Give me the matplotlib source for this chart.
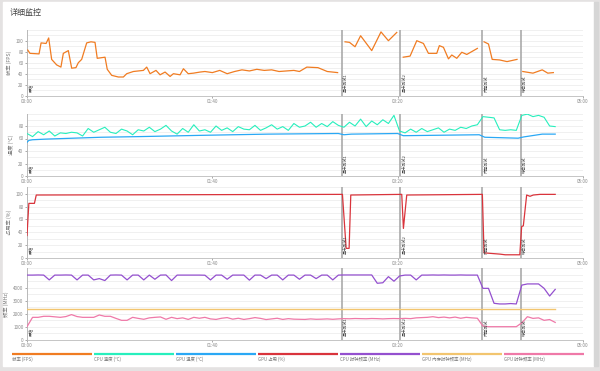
import matplotlib
matplotlib.use("Agg")
import matplotlib.pyplot as plt
import numpy as np

plt.rcParams['font.family'] = ['Noto Sans CJK SC', 'DejaVu Sans']

# ---- data (time in seconds) ----
fps_t = [0.4, 1.6, 6.5, 7.6, 10.3, 11.7, 13.3, 16, 18.3, 19.6, 22.3, 24.1, 26.4, 27.7, 29.5,
         32.2, 34.5, 36.7, 37.9, 42.1, 43.3, 45.7, 49.3, 52, 53.8, 57.4, 62.8, 64.6, 66.4,
         69.6, 71.8, 74.5, 77.2, 79, 82.6, 84.4, 87, 89.8, 93.4, 96, 100, 104, 108, 112, 116,
         120, 124, 128, 132, 136, 140, 144, 147, 151, 157, 162, 167.6, 169,
         171.6, 174, 177, 180, 186, 191, 195, 199.5, 201,
         203, 206.7, 210.3, 213.9, 216.6, 221.1, 222.5, 224.7, 227.4, 229.2, 231.9, 234.6,
         237.3, 243, 245,
         246.6, 249, 251, 255, 259, 264.4, 266,
         267.5, 273, 278, 281, 284]
fps = [83, 77, 76, 96, 95, 105, 66, 56, 52, 77, 82, 50, 51, 60, 66,
       96, 98, 97, 68, 70, 48, 37, 34, 34, 40, 44, 46, 52, 40,
       46, 38, 43, 35, 40, 38, 49, 40, 41, 43, 44, 42, 46, 40, 44, 47,
       45, 48, 46, 47, 44, 45, 46, 44, 52, 51, 44, 42, np.nan,
       98, 97, 89, 109, 82, 116, 100, 115, np.nan,
       70, 72, 100, 95, 77, 77, 91, 88, 67, 74, 68, 79,
       75, 86, np.nan,
       98, 94, 66, 65, 62, 66, np.nan,
       44, 41, 47, 41, 42]

t3 = list(range(0, 286, 3))
cpu_temp = [68, 63, 71, 66, 72, 64, 69, 68, 70, 69, 64, 76, 70, 74, 78, 70, 68, 75, 72, 66,
            74, 72, 78, 71, 75, 81, 72, 67, 76, 70, 82, 72,
            74, 70, 80, 73, 77, 71, 79, 75, 74, 81, 73, 77, 82, 75, 79, 73, 84, 78,
            80, 86, 78, 84, 79, 87, 81,
            78, 86, 80, 91, 79, 88, 82, 90, 84, 97,
            72, 69, 75, 70, 76, 71, 74, 77, 70, 75, 73, 78, 76, 80, 82,
            95, 94, 93, 74, 73, 74, 73, 97, 99, 95, 97, 94, 80, 79]
gpu_temp_t = [0, 1, 3, 10, 20, 40, 60, 93, 130, 168, 171, 175, 200, 203, 244, 247, 265,
              268, 278, 285]
gpu_temp = [54, 57, 58, 59, 60, 62, 63, 65, 67, 68, 66, 67, 68, 64.5, 66, 62, 60.5,
            62.5, 67, 67]

gpu_util_t = [0, 1, 4, 5, 170.2, 172.2, 173.8, 174.7, 202.2, 203.1, 204.9, 245.7, 246.6,
              255.3, 258, 265.9, 266.9, 267.8, 269.6, 271.4, 273.2, 276.8, 285]
gpu_util = [35, 85, 85, 98, 99, 15, 15, 98, 99, 46, 98, 99, 8,
            6, 5, 5, 49, 50, 98, 96, 98, 99, 99]

cpu_clock = [4970, 4970, 4980, 4970, 4600, 4970, 4970, 4980, 4970, 4600, 4970, 4970, 4600,
             4700, 4550, 4970, 4980, 4970, 4600, 4970, 4970, 4600, 4970, 4650, 4970, 4980,
             4550, 4970, 4970, 4970, 4970, 4970, 4960, 4600, 4970, 4970, 4650, 4970, 4970,
             4970, 4580, 4970, 4970, 4700, 4970, 4970, 4600, 4970, 4970, 4650, 4970, 4970,
             4700, 4970, 4970, 4600, 4970, 4980, 4980, 4980, 4980, 4980, 4980, 4340, 4380,
             4850, 4500, 4900, 4970, 4970, 4600, 4970, 4970, 4980, 4970, 4980, 4970, 4970,
             4980, 4970, 4970, 4970, 3950, 3950, 2800, 2750, 2750, 2780, 2750, 4200, 4290,
             4290, 4290, 3950, 3360, 3870]
gpu_mem_t = [0, 285]
gpu_mem = [2400, 2400]
gpu_clock = [1000, 1720, 1720, 1800, 1800, 1760, 1720, 1780, 1930, 1780, 1720, 1720, 1720,
             1900, 1800, 1800, 1640, 1490, 1490, 1720, 1640, 1570, 1680, 1720, 1750, 1570,
             1720, 1620, 1680, 1560, 1720, 1650, 1720, 1600, 1560, 1650, 1700, 1580, 1650,
             1560, 1620, 1700, 1640, 1550, 1600, 1650, 1560, 1620, 1580, 1570, 1560, 1600,
             1570, 1580, 1600, 1570, 1600, 1620, 1610, 1630, 1620, 1610, 1630, 1620, 1600,
             1620, 1630, 1620, 1640, 1620, 1680, 1700, 1720, 1770, 1700, 1740, 1680, 1740,
             1650, 1720, 1680, 1650, 1050, 1000, 1000, 1000, 1000, 1000, 1000, 1300, 1770,
             1640, 1680, 1490, 1550, 1330]

marker_t = [0, 170, 201.5, 245.5, 266.5]
marker_labels = ['开始', '显卡测试1', '显卡测试2', '内存测试', '综合测试']

legend_names = ['帧率 (FPS)', 'CPU 温度 (°C)', 'GPU 温度 (°C)', 'GPU 占用 (%)',
                'CPU 时钟频率 (MHz)', 'GPU 内存时钟频率 (MHz)', 'GPU 时钟频率 (MHz)']
colors = ['#f07c22', '#27efbd', '#2aa8f5', '#d9343c', '#9450cf', '#f2c56f', '#ef79a8']

# ---- figure ----
W, H = 600, 371
fig = plt.figure(figsize=(6, 3.71), dpi=100)
fig.patch.set_facecolor('white')

bg = fig.add_axes([0, 0, 1, 1], zorder=-5)
bg.set_xlim(0, W)
bg.set_ylim(H, 0)
bg.axis('off')
bg.add_patch(plt.Rectangle((0, 0), W, H, color='#e4e2e2'))
bg.add_patch(plt.Rectangle((3, 2), 590, 364, color='white'))
bg.add_patch(plt.Rectangle((594, 2), 4, 364, color='#d6d6d6'))
bg.text(10, 12, '详细监控', fontsize=5.8, color='#444444', va='center')


def px_axes(top, bottom):
    return fig.add_axes([27 / W, 1 - bottom / H, (583 - 27) / W, (bottom - top) / H])


panels = [
    (29.7, 95.7, (0, 120), np.arange(0, 101, 20), 10, '帧率 (FPS)'),
    (113.5, 176, (0, 100), np.arange(0, 81, 20), 10, '温度 (°C)'),
    (187.3, 258, (0, 110), np.arange(0, 101, 20), 10, '占用率 (%)'),
    (268.2, 339.7, (0, 5500), np.arange(0, 4001, 1000), 500, '频率 (MHz)'),
]

axes = []
for top, bottom, ylim, yt, gstep, ylab in panels:
    ax = px_axes(top, bottom)
    ax.set_xlim(0, 300)
    ax.set_ylim(*ylim)
    for g in np.arange(gstep, ylim[1] + 0.1, gstep):
        ax.axhline(g, color='#eeeeee', lw=0.6, zorder=0)
    ax.set_yticks(yt)
    ax.set_yticklabels([str(int(v)) for v in yt])
    ax.set_xticks([0, 100, 200, 300])
    ax.set_xticklabels(['00:00', '01:40', '03:20', '05:00'])
    ax.tick_params(labelsize=3.3, colors='#888888', length=1.5, width=0.5, pad=1)
    for s in ['top', 'right']:
        ax.spines[s].set_visible(False)
    for s in ['left', 'bottom']:
        ax.spines[s].set_color('#bbbbbb')
        ax.spines[s].set_linewidth(0.6)
    ax.set_ylabel(ylab, fontsize=3.8, color='#777777', labelpad=3)
    for mt, ml in zip(marker_t, marker_labels):
        ax.axvline(mt, color='#aaaaaa', lw=1.2, zorder=1)
        ax.text(mt + 1.2, ylim[1] * 0.05, ml, rotation=90, fontsize=3, color='#444444',
                va='bottom', ha='left', zorder=4)
    axes.append(ax)

axes[0].plot(fps_t, fps, color=colors[0], lw=0.9, zorder=3)
axes[1].plot(t3, cpu_temp, color=colors[1], lw=0.8, zorder=3)
axes[1].plot(gpu_temp_t, gpu_temp, color=colors[2], lw=0.9, zorder=3)
axes[2].plot(gpu_util_t, gpu_util, color=colors[3], lw=0.9, zorder=3)
axes[3].plot(t3, cpu_clock, color=colors[4], lw=0.9, zorder=3)
axes[3].plot(gpu_mem_t, gpu_mem, color=colors[5], lw=1.0, zorder=3)
axes[3].plot(t3, gpu_clock, color=colors[6], lw=0.9, zorder=3)

# legend bars at the bottom
leg = fig.add_axes([0, 0, 1, 1], zorder=5)
leg.set_xlim(0, W)
leg.set_ylim(H, 0)
leg.axis('off')
for i, (name, c) in enumerate(zip(legend_names, colors)):
    x0 = 12 + i * 82
    leg.plot([x0, x0 + 80], [354, 354], color=c, lw=1.6, solid_capstyle='butt')
    leg.text(x0, 359.5, name, fontsize=3.2, color='#777777', va='center', ha='left')

fig.savefig('out.png', dpi=100)
